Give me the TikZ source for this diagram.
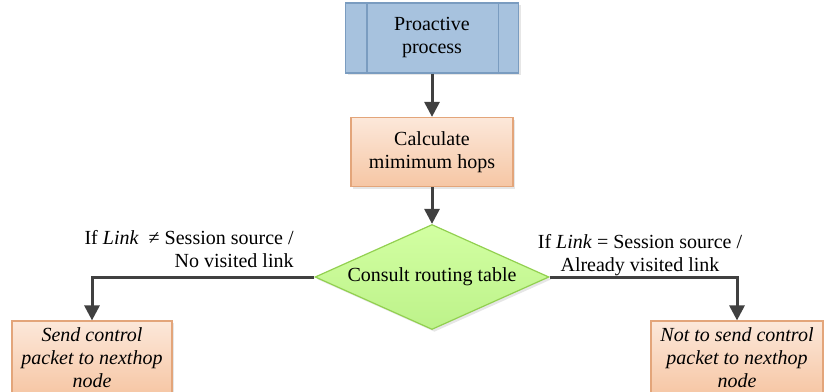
\documentclass[tikz,border=0pt]{standalone}
\usepackage{fontspec}
\setmainfont{Liberation Serif}
\usetikzlibrary{positioning,arrows.meta,shapes.geometric,shadows}
\definecolor{procB}{HTML}{A7C2DE}
\definecolor{procBd}{HTML}{7A9CC0}
\definecolor{peachT}{HTML}{FCE8DA}
\definecolor{peachB}{HTML}{F6C6A4}
\definecolor{peachBd}{HTML}{E3A57A}
\definecolor{leafT}{HTML}{D2FFA2}
\definecolor{leafB}{HTML}{BDF28A}
\definecolor{leafBd}{HTML}{92D050}
\definecolor{arrowG}{HTML}{404040}

\begin{document}
\begin{tikzpicture}[x=0.5pt, y=-0.5pt,
  every node/.style={font=\fontsize{10}{11.5}\selectfont},
  soft/.style={drop shadow={shadow xshift=1.2pt, shadow yshift=-1.2pt, opacity=0.2}},
  proc/.style={rectangle, draw=procBd, fill=procB, line width=0.6pt,
               minimum width=86.5pt, minimum height=35pt, align=center, inner sep=2pt, soft},
  stepbox/.style={rectangle, draw=peachBd, top color=peachT, bottom color=peachB, line width=0.6pt,
               minimum height=34.5pt, align=center, inner sep=2pt, soft},
  decision/.style={diamond, aspect=2.2, draw=leafBd, top color=leafT, bottom color=leafB, line width=0.6pt,
               minimum width=117pt, minimum height=52.5pt, inner sep=0pt, soft},
  flow/.style={-{Triangle[length=7.5pt, width=7.5pt]}, line width=1.5pt, arrowG}
]
  \useasboundingbox (0,0) rectangle (824,391);

  % main column
  \node[proc] (proact) at (432,38) {Proactive\\process};
  \draw[procBd, line width=0.6pt] ([xshift=11pt]proact.north west) -- ([xshift=11pt]proact.south west);
  \draw[procBd, line width=0.6pt] ([xshift=-10.5pt]proact.north east) -- ([xshift=-10.5pt]proact.south east);
  \node[stepbox, minimum width=81pt] (calc) at (432,152) {Calculate\\mimimum hops};
  \node[decision] (dec) at (432,277) {Consult routing table};

  % outcomes
  \node[stepbox, minimum width=80pt, minimum height=37pt, font=\fontsize{10}{11.5}\selectfont\itshape]
       (send) at (92,358) {Send control\\packet to nexthop\\node};
  \node[stepbox, minimum width=86pt, minimum height=37pt, font=\fontsize{10}{11.5}\selectfont\itshape]
       (nosend) at (737,358) {Not to send control\\packet to nexthop\\node};

  \node[anchor=east, align=right, inner sep=0pt] (lblno) at (294,249)
       {If \textit{Link}\ \ ≠ Session source /\\No visited link};
  \node[align=center, inner sep=0pt] (lblyes) at (640,255)
       {If \textit{Link} = Session source /\\Already visited link};

  \draw[flow] (proact) -- (calc);
  \draw[flow] (calc) -- (dec);
  \draw[flow] (dec.west) -| (send.north);
  \draw[flow] (dec.east) -| (nosend.north);
\end{tikzpicture}
\end{document}
